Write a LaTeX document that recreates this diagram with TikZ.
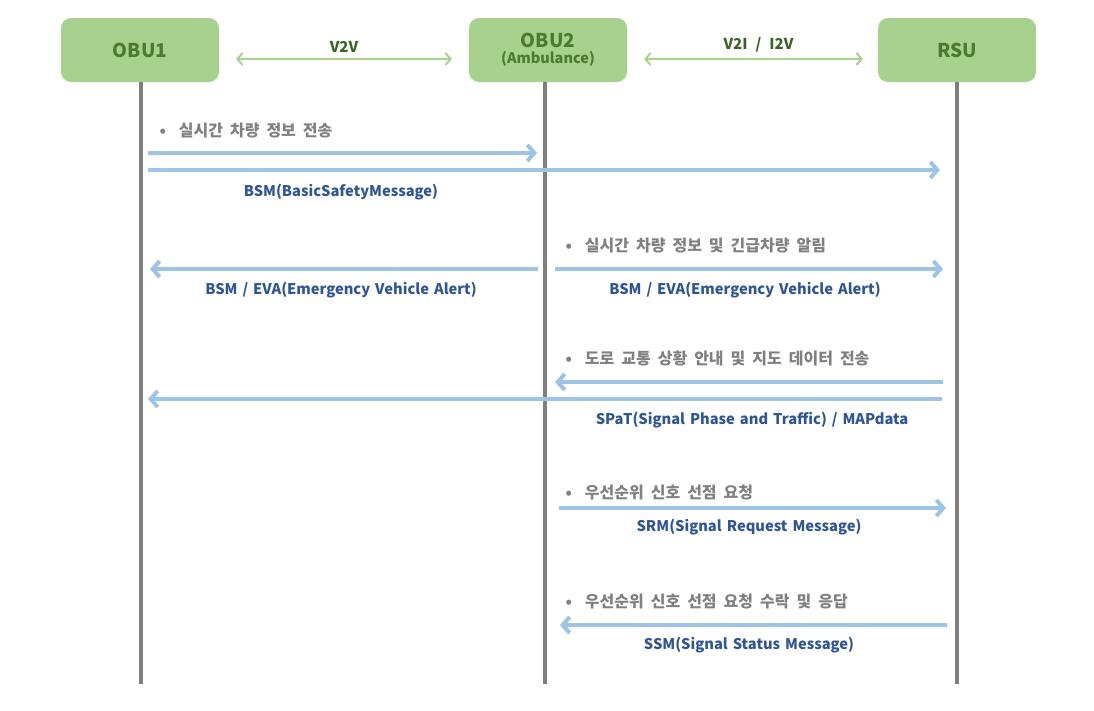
\documentclass[tikz,border=0pt]{standalone}
\usepackage{fontspec}
\setmainfont{Noto Sans CJK KR}
\usetikzlibrary{arrows.meta, positioning, calc}
\definecolor{boxgreen}{HTML}{A9D18E}
\definecolor{boxtext}{HTML}{4E7A30}
\definecolor{linktext}{HTML}{3B6424}
\definecolor{msgblue}{HTML}{9DC3E6}
\definecolor{labelblue}{HTML}{2F5597}
\definecolor{notegray}{HTML}{808080}
\definecolor{lifegray}{HTML}{7F7F7F}
\newcommand{\notefont}{\bfseries\fontsize{16}{17}\selectfont\setlength{\spaceskip}{7pt}}
\newcommand{\msgfont}{\bfseries\fontsize{14.7}{16}\selectfont\setlength{\spaceskip}{5pt}}
\newcommand{\linkfont}{\bfseries\fontsize{15}{16}\selectfont\setlength{\spaceskip}{8pt}}

\begin{document}
\begin{tikzpicture}[
    x=1pt, y=-1pt,
    entity/.style={rectangle, rounded corners=10pt, fill=boxgreen, minimum width=158pt, minimum height=64pt, align=center, text=boxtext, font=\bfseries\fontsize{19}{20}\selectfont},
    lifeline/.style={draw=lifegray, line width=4pt},
    link/.style={{Straight Barb[length=5pt,width=12pt]}-{Straight Barb[length=5pt,width=12pt]}, draw=boxgreen, line width=2pt},
    msg/.style={-{Straight Barb[length=7pt,width=16pt]}, draw=msgblue, line width=4pt},
    note/.style={anchor=west, text=notegray, font=\notefont},
    msglabel/.style={text=labelblue, font=\msgfont},
    linklabel/.style={text=linktext, font=\linkfont}
]
    \useasboundingbox (0,0) rectangle (1094,710);

    % Entities
    \node[entity] (obu1) at (140,50) {OBU1};
    \node[entity] (obu2) at (548,50) {OBU2\\[-4pt]{\fontsize{14.5}{15}\selectfont(Ambulance)}};
    \node[entity] (rsu) at (957,50) {RSU};

    % Lifelines
    \coordinate (e1) at (141,684);
    \coordinate (e2) at (545,684);
    \coordinate (e3) at (957,684);
    \draw[lifeline] (obu1.south -| e1) -- (e1);
    \draw[lifeline] (obu2.south -| e2) -- (e2);
    \draw[lifeline] (rsu.south -| e3) -- (e3);

    % Links between entities
    \coordinate (v2v) at ($(obu1.east)+(17,9)$);
    \draw[link] (v2v) -- ($(obu2.west)+(-17,9)$) node[midway, above=2pt, linklabel] (v2vlabel) {V2V};
    \draw[link] ($(obu2.east)+(17,9)$) -- ($(rsu.west)+(-15,9)$) node[midway, above=2pt, xshift=5pt, linklabel] (v2ilabel) {V2I / I2V};

    % Row levels
    \coordinate (r1) at (0,153);
    \coordinate (r1b) at (0,170);
    \coordinate (r2) at (0,269);
    \coordinate (r3) at (0,382);
    \coordinate (r3b) at (0,399);
    \coordinate (r4) at (0,508);
    \coordinate (r5) at (0,625);

    % Real-time vehicle info
    \node[note] (n1) at (156,131) {•\hspace{13pt}실시간 차량 정보 전송};
    \draw[msg] ($(e1 |- r1)+(7,0)$) -- ($(e2 |- r1)+(-8,0)$);
    \draw[msg] ($(e1 |- r1b)+(7,0)$) -- ($(e3 |- r1b)+(-17,0)$);
    \node[msglabel] (bsm) at (341,192) {BSM(BasicSafetyMessage)};

    % Emergency vehicle alert
    \node[note] (n2) at (562,246) {•\hspace{13pt}실시간 차량 정보 및 긴급차량 알림};
    \draw[msg] ($(e2 |- r2)+(-7,0)$) -- ($(e1 |- r2)+(9,0)$);
    \draw[msg] ($(e2 |- r2)+(10,0)$) -- ($(e3 |- r2)+(-14,0)$);
    \node[msglabel] (eva1) at (341,290) {BSM / EVA(Emergency Vehicle Alert)};
    \node[msglabel] (eva2) at (745,290) {BSM / EVA(Emergency Vehicle Alert)};

    % Traffic and map data
    \node[note] (n3) at (562,358) {•\hspace{13pt}도로 교통 상황 안내 및 지도 데이터 전송};
    \draw[msg] ($(e3 |- r3)+(-14,0)$) -- ($(e2 |- r3)+(10,0)$);
    \draw[msg] ($(e3 |- r3b)+(-15,0)$) -- ($(e1 |- r3b)+(7,0)$);
    \node[msglabel] (spat) at (752,420) {SPaT(Signal Phase and Traffic) / MAPdata};

    % Signal request
    \node[note] (n4) at (562,492) {•\hspace{13pt}우선순위 신호 선점 요청};
    \draw[msg] ($(e2 |- r4)+(14,0)$) -- ($(e3 |- r4)+(-11,0)$);
    \node[msglabel] (srm) at (749,527) {SRM(Signal Request Message)};

    % Signal status
    \node[note] (n5) at (562,601) {•\hspace{13pt}우선순위 신호 선점 요청 수락 및 응답};
    \draw[msg] ($(e3 |- r5)+(-10,0)$) -- ($(e2 |- r5)+(15,0)$);
    \node[msglabel] (ssm) at (749,645) {SSM(Signal Status Message)};
\end{tikzpicture}
\end{document}
